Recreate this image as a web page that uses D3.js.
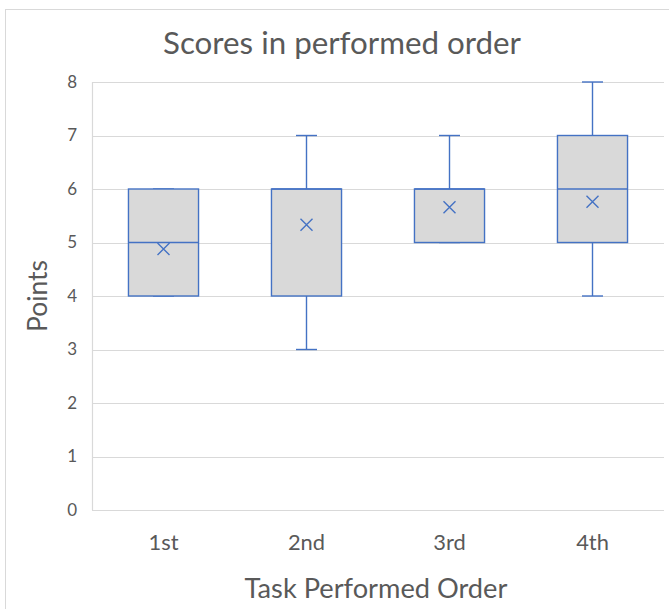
<!DOCTYPE html>
<html>
<head>
<meta charset="utf-8">
<script src="https://cdn.jsdelivr.net/npm/d3@7"></script>
<style>
body { margin: 0; background: #fff; }
text { font-family: Lato, "Open Sans", sans-serif; fill: #595959; }
</style>
</head>
<body>
<div id="chart"></div>
<script>
var categories = ['1st', '2nd', '3rd', '4th'];
var mins = [4, 3, 5, 4];
var q1s = [4, 4, 5, 5];
var medians = [5, 6, 6, 6];
var q3s = [6, 6, 6, 7];
var maxs = [6, 7, 7, 8];
var means = [4.88, 5.33, 5.66, 5.76];
var yTicks = [0, 1, 2, 3, 4, 5, 6, 7, 8];

var width = 669;
var height = 609;
var margin = { left: 92, right: 5, top: 82, bottom: 99 };
var blue = '#4472C4';
var grid = '#d9d9d9';

var svg = d3.select('#chart').append('svg').attr('width', width).attr('height', height);

// scale a text's font so it covers the given width
function fit(sel, target) {
  var size = parseFloat(sel.style('font-size'));
  var w = sel.node().getComputedTextLength();
  sel.style('font-size', (size * target / w) + 'px');
  return size * target / w;
}

// outer chart frame
svg.append('rect')
  .attr('x', 5.5).attr('y', 9.5)
  .attr('width', 700).attr('height', 700)
  .attr('fill', 'none').attr('stroke', grid);

var x = d3.scaleBand().domain(categories).range([margin.left, width - margin.right]);
var y = d3.scaleLinear().domain([0, 8]).range([height - margin.bottom, margin.top]);

// gridlines
svg.append('g').selectAll('line').data(yTicks).enter().append('line')
  .attr('x1', margin.left).attr('x2', width - margin.right)
  .attr('y1', function(d) { return Math.round(y(d)) + 0.5; })
  .attr('y2', function(d) { return Math.round(y(d)) + 0.5; })
  .attr('stroke', grid).attr('stroke-width', 1.2);

svg.append('line')
  .attr('x1', margin.left + 0.5).attr('x2', margin.left + 0.5)
  .attr('y1', y(8)).attr('y2', y(0))
  .attr('stroke', grid).attr('stroke-width', 1.2);

// y axis
var yAxis = svg.append('g')
  .attr('transform', 'translate(' + margin.left + ',0)')
  .call(d3.axisLeft(y).tickValues(yTicks).tickSize(0).tickPadding(15));
yAxis.select('.domain').remove();
yAxis.selectAll('text').style('font-size', '17px').style('fill', '#595959');

// x axis
var xAxis = svg.append('g')
  .attr('transform', 'translate(0,' + y(0) + ')')
  .call(d3.axisBottom(x).tickSize(0).tickPadding(0));
xAxis.select('.domain').remove();
var xLabels = xAxis.selectAll('text').attr('dy', null).attr('y', 40).style('fill', '#595959').style('font-size', '20px');
var xs = fit(d3.select(xLabels.nodes()[0]), 30);
xLabels.style('font-size', xs + 'px');

var boxW = x.bandwidth() * 0.49;
var capW = 21;

var boxes = svg.append('g').selectAll('g').data(categories).enter().append('g');

function cx(d) { return x(d) + x.bandwidth() / 2; }

// whiskers
boxes.append('line')
  .attr('x1', cx).attr('x2', cx)
  .attr('y1', function(d, i) { return y(maxs[i]); })
  .attr('y2', function(d, i) { return y(mins[i]); })
  .attr('stroke', blue).attr('stroke-width', 1.4);
boxes.append('line')
  .attr('x1', function(d) { return cx(d) - capW / 2; })
  .attr('x2', function(d) { return cx(d) + capW / 2; })
  .attr('y1', function(d, i) { return y(maxs[i]); })
  .attr('y2', function(d, i) { return y(maxs[i]); })
  .attr('stroke', blue).attr('stroke-width', 1.4);
boxes.append('line')
  .attr('x1', function(d) { return cx(d) - capW / 2; })
  .attr('x2', function(d) { return cx(d) + capW / 2; })
  .attr('y1', function(d, i) { return y(mins[i]); })
  .attr('y2', function(d, i) { return y(mins[i]); })
  .attr('stroke', blue).attr('stroke-width', 1.4);

// box
boxes.append('rect')
  .attr('x', function(d) { return cx(d) - boxW / 2; })
  .attr('y', function(d, i) { return y(q3s[i]); })
  .attr('width', boxW)
  .attr('height', function(d, i) { return y(q1s[i]) - y(q3s[i]); })
  .attr('fill', '#d9d9d9').attr('stroke', blue).attr('stroke-width', 1.4);

// median
boxes.append('line')
  .attr('x1', function(d) { return cx(d) - boxW / 2; })
  .attr('x2', function(d) { return cx(d) + boxW / 2; })
  .attr('y1', function(d, i) { return y(medians[i]); })
  .attr('y2', function(d, i) { return y(medians[i]); })
  .attr('stroke', blue).attr('stroke-width', 1.4);

// mean marker
boxes.append('path')
  .attr('d', function(d, i) {
    var px = cx(d), py = y(means[i]), s = 6;
    return 'M' + (px - s) + ',' + (py - s) + 'L' + (px + s) + ',' + (py + s) +
      'M' + (px - s) + ',' + (py + s) + 'L' + (px + s) + ',' + (py - s);
  })
  .attr('stroke', blue).attr('stroke-width', 1.4).attr('fill', 'none');

// titles
var title = svg.append('text')
  .attr('x', 342).attr('y', 54)
  .attr('text-anchor', 'middle')
  .style('font-size', '30px')
  .text('Scores in performed order');
fit(title, 358);

var xTitle = svg.append('text')
  .attr('x', 376).attr('y', 598)
  .attr('text-anchor', 'middle')
  .style('font-size', '26px')
  .text('Task Performed Order');
fit(xTitle, 263);

var yTitle = svg.append('text')
  .attr('transform', 'translate(47,' + y(4) + ') rotate(-90)')
  .attr('text-anchor', 'middle')
  .style('font-size', '26px')
  .text('Points');
fit(yTitle, 72);
</script>
</body>
</html>
